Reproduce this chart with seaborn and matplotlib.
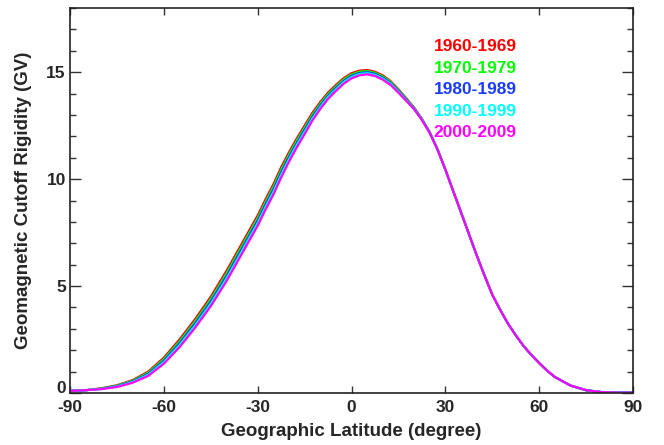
import matplotlib
matplotlib.use("Agg")
import matplotlib.pyplot as plt
import matplotlib.transforms as mtransforms
import seaborn as sns
import pandas as pd
from matplotlib.ticker import MultipleLocator

latitude = [-90, -85, -80, -75, -70, -65, -60, -55, -50, -45, -40, -35,
            -30, -27.5, -25, -22.5, -20, -17.5, -15, -12.5, -10, -7.5, -5, -2.5,
            0, 2.5, 5, 7.5, 10, 12.5, 15, 17.5, 20, 22.5, 25, 27.5,
            30, 32.5, 35, 37.5, 40, 42.5, 45, 47.5, 50, 52.5, 55, 57.5, 60, 62.5,
            65, 70, 75, 80, 85, 90]

north_tail = [10.45, 9.45, 8.45, 7.45, 6.45, 5.50, 4.60, 3.90, 3.25, 2.70, 2.20, 1.78,
              1.40, 1.05, 0.75, 0.35, 0.13, 0.04, 0.02, 0.02]

rig_1960 = [0.10, 0.13, 0.22, 0.36, 0.60, 1.00, 1.65, 2.50, 3.45, 4.50, 5.70, 7.00,
            8.30, 9.05, 9.75, 10.55, 11.25, 11.90, 12.50, 13.10, 13.60, 14.05, 14.40, 14.72,
            14.95, 15.07, 15.10, 15.02, 14.85, 14.58, 14.20, 13.78, 13.35, 12.82, 12.20,
            11.40] + north_tail
rig_1970 = [0.10, 0.13, 0.21, 0.34, 0.57, 0.95, 1.58, 2.41, 3.35, 4.39, 5.58, 6.88,
            8.18, 8.93, 9.63, 10.43, 11.14, 11.80, 12.40, 13.01, 13.52, 13.98, 14.33, 14.66,
            14.89, 15.02, 15.05, 14.97, 14.80, 14.54, 14.16, 13.75, 13.33, 12.81, 12.19,
            11.40] + north_tail
rig_1980 = [0.10, 0.13, 0.20, 0.32, 0.54, 0.90, 1.51, 2.32, 3.25, 4.28, 5.46, 6.76,
            8.06, 8.81, 9.51, 10.31, 11.03, 11.69, 12.30, 12.92, 13.44, 13.90, 14.26, 14.59,
            14.83, 14.96, 15.00, 14.92, 14.75, 14.49, 14.12, 13.72, 13.31, 12.79, 12.18,
            11.39] + north_tail
rig_1990 = [0.10, 0.13, 0.19, 0.30, 0.51, 0.85, 1.44, 2.23, 3.15, 4.17, 5.34, 6.64,
            7.94, 8.69, 9.39, 10.19, 10.92, 11.59, 12.20, 12.83, 13.36, 13.83, 14.19, 14.53,
            14.77, 14.91, 14.95, 14.87, 14.70, 14.45, 14.08, 13.69, 13.29, 12.78, 12.17,
            11.39] + north_tail
rig_2000 = [0.10, 0.13, 0.18, 0.28, 0.48, 0.80, 1.37, 2.14, 3.05, 4.06, 5.22, 6.52,
            7.82, 8.57, 9.27, 10.07, 10.81, 11.48, 12.10, 12.74, 13.28, 13.75, 14.12, 14.46,
            14.71, 14.85, 14.90, 14.82, 14.65, 14.40, 14.04, 13.66, 13.27, 12.76, 12.16,
            11.38] + north_tail

decades = ["1960-1969", "1970-1979", "1980-1989", "1990-1999", "2000-2009"]
series = [rig_1960, rig_1970, rig_1980, rig_1990, rig_2000]
colors = ["#ff0000", "#00ff00", "#1a3cff", "#00ffff", "#ff00ff"]

x_ticks = [-90, -60, -30, 0, 30, 60, 90]
y_ticks = [0, 5, 10, 15]

rows = []
for name, vals in zip(decades, series):
    for la, v in zip(latitude, vals):
        rows.append({"lat": la, "rig": v, "decade": name})
df = pd.DataFrame(rows)

sns.set_style("ticks")
plt.rcParams["font.family"] = ["Liberation Sans", "DejaVu Sans"]
plt.rcParams["font.weight"] = "bold"
plt.rcParams["axes.unicode_minus"] = False

fig = plt.figure(figsize=(6.64, 4.45), dpi=100)
ax = fig.add_axes([70 / 664, 52 / 445, 563 / 664, 385 / 445])

sns.lineplot(data=df, x="lat", y="rig", hue="decade", palette=colors,
             hue_order=decades, linewidth=1.6, legend=False, ax=ax)

ax.set_xlim(-90, 90)
ax.set_ylim(0, 18)
ax.set_xticks(x_ticks)
ax.set_yticks(y_ticks)
ax.yaxis.set_minor_locator(MultipleLocator(1))
ax.tick_params(axis="both", which="both", direction="in", top=True, right=True,
               labelsize=12.5, color="#333333", width=1.0)
ax.tick_params(axis="y", which="major", length=8, pad=3)
ax.tick_params(axis="y", which="minor", length=4)
ax.tick_params(axis="x", which="major", length=5, pad=5)
for lab in ax.get_xticklabels() + ax.get_yticklabels():
    lab.set_fontweight("bold")
# lift the "0" label on the y axis slightly, as in the reference
ylabs = ax.get_yticklabels()
ylabs[0].set_transform(ylabs[0].get_transform() +
                       mtransforms.ScaledTranslation(0, 6 / 100, fig.dpi_scale_trans))
for sp in ax.spines.values():
    sp.set_color("#222222")
    sp.set_linewidth(1.2)

ax.set_xlabel("Geographic Latitude (degree)", fontsize=13.5, fontweight="bold", labelpad=6)
ax.set_ylabel("Geomagnetic Cutoff Rigidity (GV)", fontsize=13.5, fontweight="bold", labelpad=10)

for i, (name, c) in enumerate(zip(decades, colors)):
    ax.text(0.72, 0.899 - i * 0.0558, name, color=c, fontsize=12.5, fontweight="bold",
            ha="center", va="center", transform=ax.transAxes)

fig.savefig("out.png", dpi=100)
